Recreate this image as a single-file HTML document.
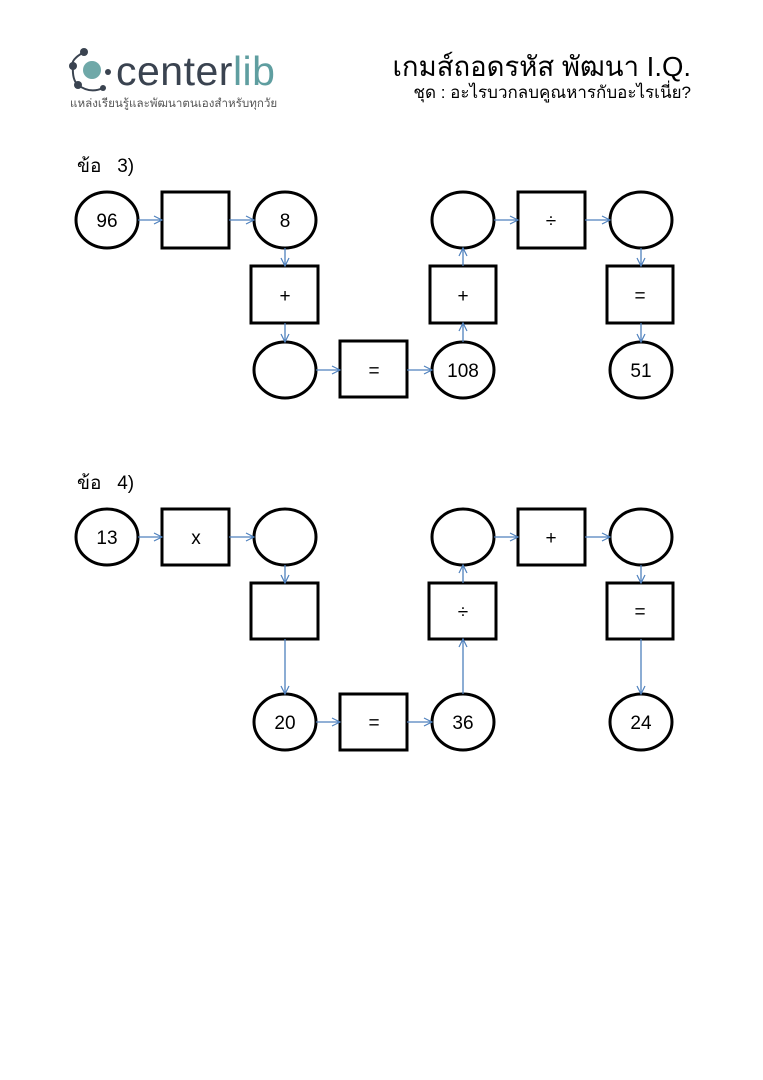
<!DOCTYPE html>
<html><head><meta charset="utf-8"><style>
body{margin:0;background:#fff;width:763px;height:1080px;overflow:hidden}
svg{display:block}
text{font-family:"Liberation Sans","Noto Sans CJK SC",sans-serif}
.th{font-family:"Liberation Sans","Noto Sans CJK SC","WenQuanYi Zen Hei",sans-serif}
</style></head><body>
<svg width="763" height="1080" viewBox="0 0 763 1080" xmlns="http://www.w3.org/2000/svg">
<defs><marker id="a" markerWidth="10" markerHeight="10" refX="9" refY="5" orient="auto" markerUnits="userSpaceOnUse"><path d="M1,1 L9,5 L1,9" fill="none" stroke="#4f81bd" stroke-width="1.2"/></marker></defs>
<g>
<circle cx="92" cy="70" r="9" fill="#6fa8a8"/>
<circle cx="84" cy="52" r="4" fill="#3a4350"/><circle cx="73" cy="66" r="4" fill="#3a4350"/><circle cx="78" cy="85" r="4" fill="#3a4350"/><circle cx="103" cy="88" r="3" fill="#3a4350"/><circle cx="108" cy="72" r="3" fill="#3a4350"/>
<path d="M84,52 Q70,60 73,66 Q72,80 78,85 Q90,94 103,88" fill="none" stroke="#3a4350" stroke-width="2"/>
<text x="116" y="85" font-size="41" fill="#3a4350" letter-spacing="0.5">center<tspan fill="#5f9ea0">lib</tspan></text>
<text class="th" x="70" y="107" font-size="11.6" fill="#555">แหล่งเรียนรู้และพัฒนาตนเองสำหรับทุกวัย</text>
</g>
<text class="th" x="691" y="76" font-size="27.5" text-anchor="end" fill="#000">เกมส์ถอดรหัส พัฒนา I.Q.</text>
<text class="th" x="691" y="98" font-size="17" text-anchor="end" fill="#000">ชุด : อะไรบวกลบคูณหารกับอะไรเนี่ย?</text>
<text class="th" x="77" y="172" font-size="19">ข้อ&#160;&#160; 3)</text>
<text class="th" x="77" y="489" font-size="19">ข้อ&#160;&#160; 4)</text>
<g fill="#fff" stroke="#000" stroke-width="3">
<ellipse cx="107" cy="220" rx="31" ry="28"/><rect x="162" y="192" width="67" height="56"/>
<ellipse cx="285" cy="220" rx="31" ry="28"/><rect x="251" y="266" width="67" height="57"/>
<ellipse cx="285" cy="370" rx="31" ry="28"/><rect x="340" y="341" width="67" height="56"/>
<ellipse cx="463" cy="370" rx="31" ry="28"/><rect x="430" y="266" width="66" height="57"/>
<ellipse cx="463" cy="220" rx="31" ry="28"/><rect x="518" y="192" width="67" height="56"/>
<ellipse cx="641" cy="220" rx="31" ry="28"/><rect x="607" y="266" width="66" height="57"/>
<ellipse cx="641" cy="370" rx="31" ry="28"/>
<ellipse cx="107" cy="537" rx="31" ry="28"/><rect x="162" y="509" width="67" height="56"/>
<ellipse cx="285" cy="537" rx="31" ry="28"/><rect x="251" y="583" width="67" height="56"/>
<ellipse cx="285" cy="722" rx="31" ry="28"/><rect x="340" y="694" width="67" height="56"/>
<ellipse cx="463" cy="722" rx="31" ry="28"/><rect x="429" y="583" width="67" height="56"/>
<ellipse cx="463" cy="537" rx="31" ry="28"/><rect x="518" y="509" width="67" height="56"/>
<ellipse cx="641" cy="537" rx="31" ry="28"/><rect x="607" y="583" width="66" height="56"/>
<ellipse cx="641" cy="722" rx="31" ry="28"/>
</g>
<g stroke="#4f81bd" stroke-width="1.3" marker-end="url(#a)">
<line x1="138" y1="220" x2="162" y2="220"/><line x1="229" y1="220" x2="254" y2="220"/>
<line x1="285" y1="248" x2="285" y2="266"/><line x1="285" y1="323" x2="285" y2="342"/>
<line x1="316" y1="370" x2="340" y2="370"/><line x1="407" y1="370" x2="432" y2="370"/>
<line x1="463" y1="342" x2="463" y2="323"/><line x1="463" y1="266" x2="463" y2="248"/>
<line x1="494" y1="220" x2="518" y2="220"/><line x1="585" y1="220" x2="610" y2="220"/>
<line x1="641" y1="248" x2="641" y2="266"/><line x1="641" y1="323" x2="641" y2="342"/>
<line x1="138" y1="537" x2="162" y2="537"/><line x1="229" y1="537" x2="254" y2="537"/>
<line x1="285" y1="565" x2="285" y2="583"/><line x1="285" y1="639" x2="285" y2="694"/>
<line x1="316" y1="722" x2="340" y2="722"/><line x1="407" y1="722" x2="432" y2="722"/>
<line x1="463" y1="694" x2="463" y2="639"/><line x1="463" y1="583" x2="463" y2="565"/>
<line x1="494" y1="537" x2="518" y2="537"/><line x1="585" y1="537" x2="610" y2="537"/>
<line x1="641" y1="565" x2="641" y2="583"/><line x1="641" y1="639" x2="641" y2="694"/>
</g>
<g font-size="19" text-anchor="middle" fill="#000">
<text x="107" y="227">96</text><text x="285" y="227">8</text><text x="285" y="302">+</text>
<text x="374" y="377">=</text><text x="463" y="377">108</text><text x="463" y="302">+</text>
<text x="551" y="227">÷</text><text x="640" y="302">=</text><text x="641" y="377">51</text>
<text x="107" y="544">13</text><text x="196" y="544">x</text><text x="285" y="729">20</text>
<text x="374" y="729">=</text><text x="463" y="729">36</text><text x="463" y="618">÷</text>
<text x="551" y="544">+</text><text x="640" y="618">=</text><text x="641" y="729">24</text>
</g>
</svg>
</body></html>
